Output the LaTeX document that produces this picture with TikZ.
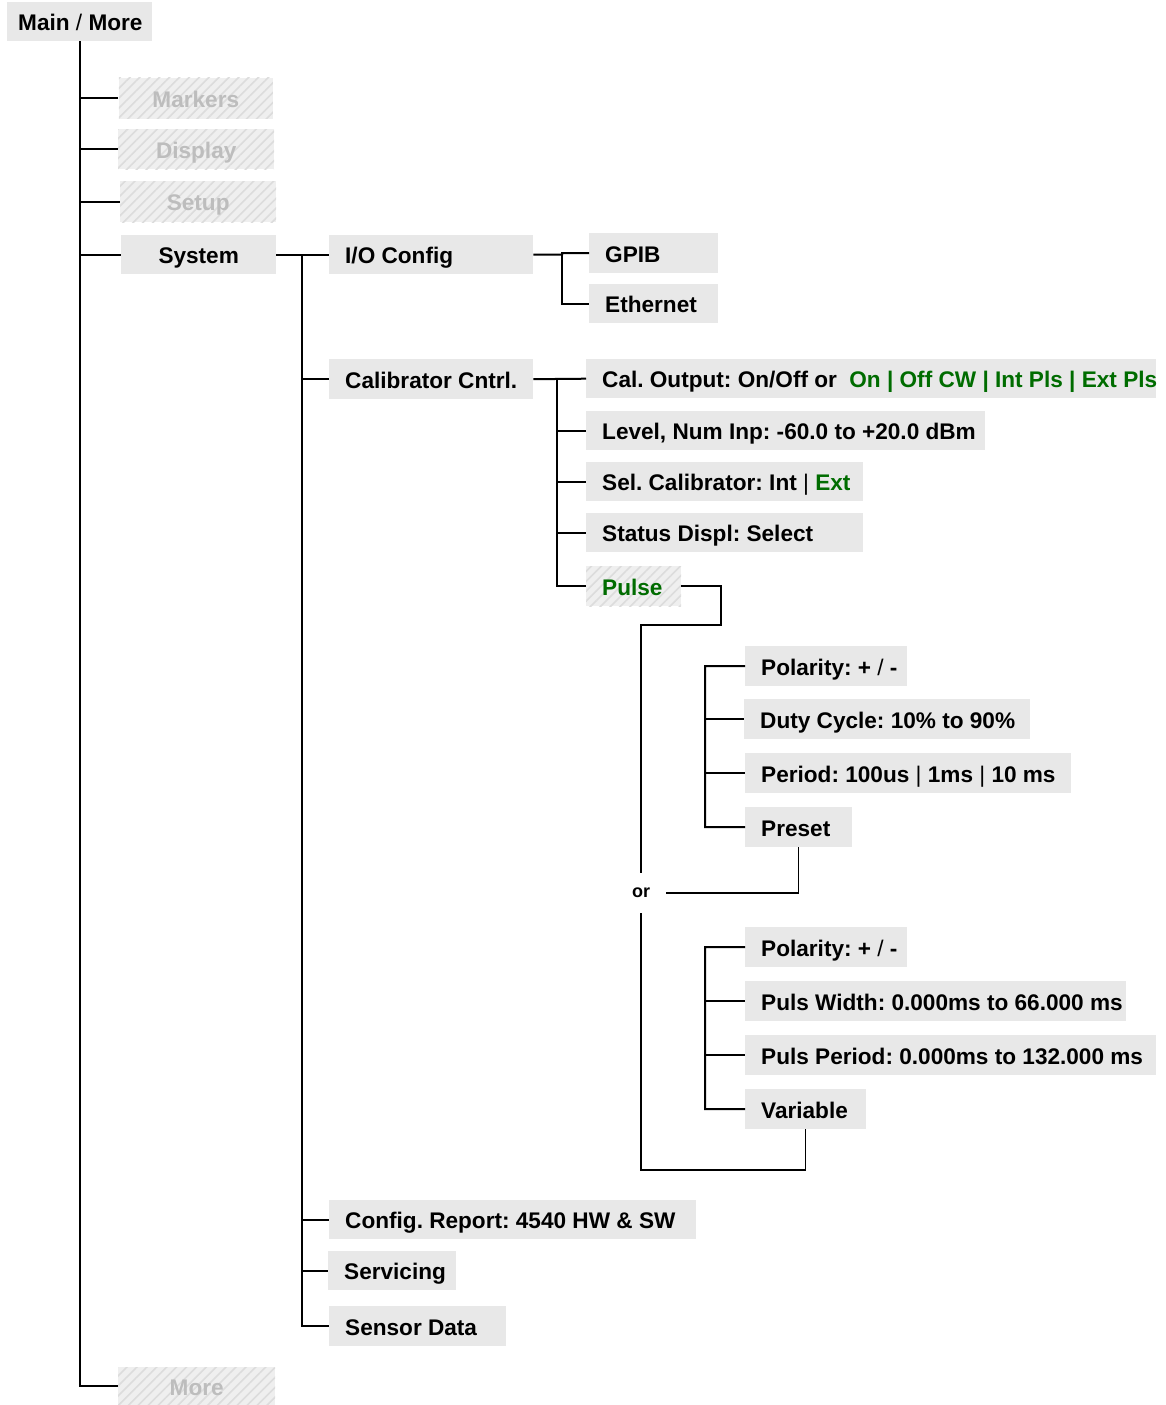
\documentclass[tikz,border=0pt]{standalone}
\usepackage{fontspec}
\setmainfont{Liberation Sans}
\usetikzlibrary{patterns.meta}
\definecolor{boxgray}{HTML}{E8E8E8}
\definecolor{hatchbg}{HTML}{EFEFEF}
\definecolor{hatchln}{HTML}{DCDCDC}
\definecolor{ghosttxt}{HTML}{BDBDBD}
\definecolor{grn}{RGB}{0,108,0}
\newcommand{\bx}[2]{\makebox[#1pt][l]{#2}}
\tikzset{
  lbl/.style={font=\fontsize{22.6}{26}\selectfont\bfseries\frenchspacing},
  box/.style={lbl, fill=boxgray, inner xsep=16pt, inner ysep=0pt, minimum height=40pt,
    text height=18pt, text depth=0pt, anchor=north west},
  hatched/.style={preaction={fill=hatchbg}, pattern={Lines[angle=45,distance=7pt,line width=1.6pt]}, pattern color=hatchln},
  ghost/.style={lbl, hatched, text=ghosttxt, inner sep=0pt, text height=18pt, text depth=0pt, anchor=north west},
  tree/.style={line width=2pt},
  orline/.style={line width=1.5pt}
}
\begin{document}
\begin{tikzpicture}[x=1pt,y=-1pt]
\useasboundingbox (0,0) rectangle (1165,1405);
% top level
\node[box, inner xsep=11pt, minimum height=39pt] (main) at (7,2) {\bx{123}{Main {\mdseries/} More}};
\node[ghost, minimum width=154pt, minimum height=41pt] (markers) at (118,77) {Markers};
\node[ghost, minimum width=156pt, minimum height=40pt] (display) at (118,129) {Display};
\node[ghost, minimum width=156pt, minimum height=41pt] (setup) at (120,181) {Setup};
\node[box, inner xsep=0pt, minimum width=155pt, minimum height=39pt] (system) at (121,235) {System};
\node[ghost, minimum width=157pt, minimum height=38pt] (more) at (118,1367) {More};
\foreach \c in {markers,display,setup,system,more}
  \draw[tree] (main.south) |- (\c.west);
% system level
\node[box, minimum height=39pt] (io) at (329,235) {\bx{172}{I/O Config}};
\node[box] (cal) at (329,359) {\bx{172}{Calibrator Cntrl.}};
\node[box, minimum height=39pt] (report) at (329,1200) {\bx{335}{Config. Report: 4540 HW \& SW}};
\node[box, minimum height=39pt] (serv) at (328,1251) {\bx{96}{Servicing}};
\node[box] (sensor) at (329,1306) {\bx{145}{Sensor Data}};
\coordinate (sysj) at (302,254.5);
\draw[tree] (system.east) -- (io.west);
\foreach \c in {cal,report,serv,sensor}
  \draw[tree] (sysj) |- (\c.west);
% I/O config
\node[box] (gpib) at (589,233) {\bx{97}{GPIB}};
\node[box, minimum height=39pt] (eth) at (589,284) {\bx{97}{Ethernet}};
\coordinate (ioj) at (562,254.5);
\draw[tree] (io.east) -- (ioj) -- (ioj |- gpib.west) -- (gpib.west);
\draw[tree] (ioj) |- (eth.west);
% calibrator
\node[box, minimum height=39pt] (calout) at (586,359) {\bx{538}{Cal. Output: On/Off or\hspace{0.55em}\textcolor{grn}{On | Off CW | Int Pls | Ext Pls}}};
\node[box, minimum height=39pt] (level) at (586,411) {\bx{367}{Level, Num Inp: -60.0 to +20.0 dBm}};
\node[box, minimum height=39pt] (sel) at (586,462) {\bx{245}{Sel. Calibrator: Int {\mdseries|} \textcolor{grn}{Ext}}};
\node[box, minimum height=39pt] (status) at (586,513) {\bx{245}{Status Displ: Select}};
\node[box, hatched, text=grn] (pulse) at (586,566) {\bx{63}{Pulse}};
\coordinate (calj) at (557,379);
\draw[tree] (cal.east) -- (calout.west);
\foreach \c in {level,sel,status,pulse}
  \draw[tree] (calj) |- (\c.west);
% pulse options
\node[font=\fontsize{18}{20}\selectfont\bfseries, inner sep=0pt, minimum width=50pt, minimum height=40pt] (or) at (641,893) {or};
\coordinate (pb) at (721,625);
\coordinate (vb) at (641,1170);
\node[box] (pol1) at (745,646) {\bx{130}{Polarity: + {\mdseries/} -}};
\node[box] (duty) at (744,699) {\bx{254}{Duty Cycle: 10\% to 90\%}};
\node[box] (period) at (745,753) {\bx{294}{Period: 100us {\mdseries|} 1ms {\mdseries|} 10 ms}};
\node[box] (preset) at (745,807) {\bx{75}{Preset}};
\node[box] (pol2) at (745,927) {\bx{130}{Polarity: + {\mdseries/} -}};
\node[box] (pwidth) at (745,981) {\bx{349}{Puls Width: 0.000ms to 66.000 ms}};
\node[box] (pperiod) at (745,1035) {\bx{379}{Puls Period: 0.000ms to 132.000 ms}};
\node[box] (variable) at (745,1089) {\bx{89}{Variable}};
\coordinate (pj1) at (705,666);
\coordinate (pj2) at (705,947);
\draw[tree] (pol1.west) -- (pj1) |- (preset.west);
\draw[tree] (pj1) |- (duty.west);
\draw[tree] (pj1) |- (period.west);
\draw[tree] (pol2.west) -- (pj2) |- (variable.west);
\draw[tree] (pj2) |- (pwidth.west);
\draw[tree] (pj2) |- (pperiod.west);
\draw[orline] (pulse.east) -| (pb) -| (or.north);
\draw[orline] (or.east) -| (preset.south);
\draw[orline] (or.south) -- (vb) -| (variable.south);
\end{tikzpicture}
\end{document}
